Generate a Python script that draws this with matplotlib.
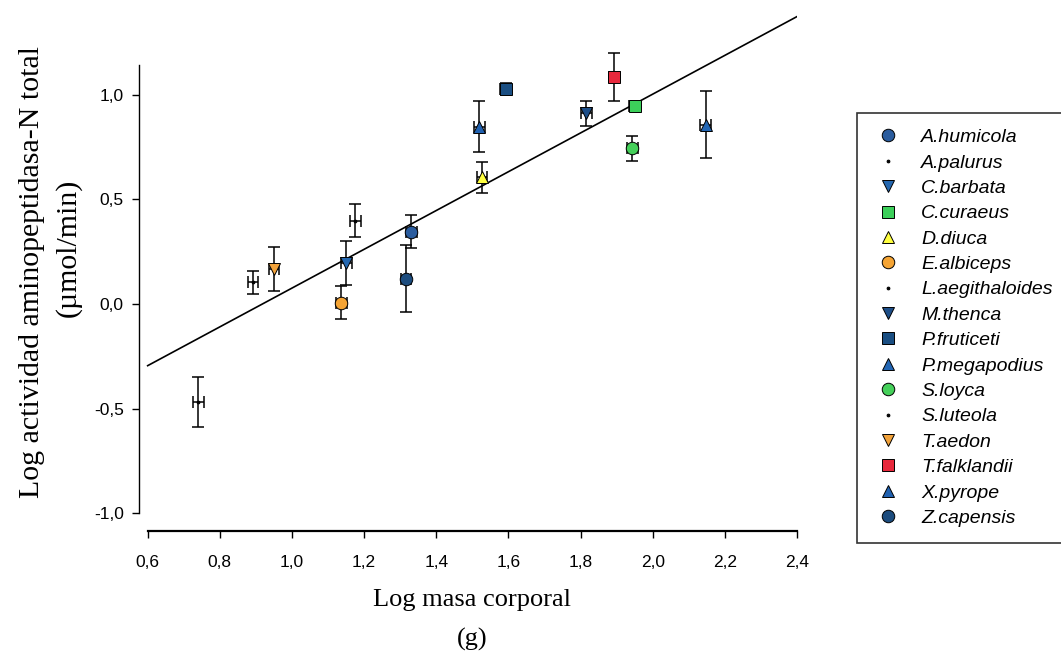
import matplotlib
matplotlib.use("Agg")
import matplotlib.pyplot as plt

# datos
especies = ["A.humicola", "A.palurus", "C.barbata", "C.curaeus", "D.diuca",
            "E.albiceps", "L.aegithaloides", "M.thenca", "P.fruticeti",
            "P.megapodius", "S.loyca", "S.luteola", "T.aedon", "T.falklandii",
            "X.pyrope", "Z.capensis"]
log_masa = [1.331, 0.740, 1.151, 1.950, 1.527, 1.137, 0.892, 1.816, 1.593,
            2.147, 1.943, 1.176, 0.950, 1.894, 1.519, 1.316]
log_act = [0.346, -0.470, 0.195, 0.944, 0.606, 0.006, 0.104, 0.912, 1.027,
           0.856, 0.745, 0.399, 0.166, 1.085, 0.848, 0.120]
err_act = [0.079, 0.120, 0.105, 0.020, 0.074, 0.080, 0.055, 0.060, 0.030,
           0.160, 0.060, 0.078, 0.105, 0.113, 0.120, 0.160]
err_masa = [0.015] * 16
marcadores = ["o", ".", "v", "s", "^", "o", ".", "v", "s", "^", "o", ".", "v", "s", "^", "o"]
colores = ["#2a5c9e", "black", "#2467b0", "#3ccf5a", "#ffff40", "#f5a434", "black",
           "#1d4e88", "#1a4e82", "#2266b4", "#45d05a", "black", "#f2a23a", "#e8283c",
           "#2061b0", "#1c4c7e"]

# recta de regresion
reg_x = [0.6, 2.4]
intercepto = -0.851
pendiente = 0.927

x_ticks = [0.6, 0.8, 1.0, 1.2, 1.4, 1.6, 1.8, 2.0, 2.2, 2.4]
y_ticks = [-1.0, -0.5, 0.0, 0.5, 1.0]

fig = plt.figure(figsize=(10.61, 6.62), dpi=100)
ax = fig.add_axes([139 / 1061, 1 - 531 / 662, 658 / 1061, 522 / 662])

ax.plot(reg_x, [intercepto + pendiente * v for v in reg_x], color="black", lw=1.2, zorder=2)

for i in range(len(especies)):
    ms = 4 if marcadores[i] == "." else 9
    ax.errorbar(log_masa[i], log_act[i], yerr=err_act[i], xerr=err_masa[i],
                fmt="none", ecolor="black", elinewidth=1.1, capsize=4.5,
                capthick=1.1, zorder=3)
    ax.plot(log_masa[i], log_act[i], marker=marcadores[i], linestyle="none",
            markersize=ms, markerfacecolor=colores[i], markeredgecolor="black",
            markeredgewidth=0.7, label=especies[i], zorder=4)

ax.set_xlim(0.576, 2.4)
ax.set_ylim(-1.085, 1.41)
ax.spines["top"].set_visible(False)
ax.spines["right"].set_visible(False)
ax.spines["bottom"].set_bounds(0.6, 2.4)
ax.spines["left"].set_bounds(-1.0, 1.14)
ax.spines["bottom"].set_linewidth(1.6)
ax.spines["left"].set_linewidth(1.0)

ax.set_xticks(x_ticks)
ax.set_yticks(y_ticks)
ax.set_xticklabels([f"{v:.1f}".replace(".", ",") for v in x_ticks])
ax.set_yticklabels([f"{v:.1f}".replace(".", ",") for v in y_ticks])
ax.tick_params(direction="out", length=5, width=1, labelsize=12.5)
ax.tick_params(axis="x", pad=12)
ax.tick_params(axis="y", pad=6)
for lab in ax.get_xticklabels() + ax.get_yticklabels():
    lab.set_family("Liberation Sans")

fig.text(472 / 1061, 1 - 600 / 662, "Log masa corporal", ha="center", va="center",
         family="Liberation Serif", fontsize=19)
fig.text(472 / 1061, 1 - 639 / 662, "(g)", ha="center", va="center",
         family="Liberation Serif", fontsize=19)
fig.text(32 / 1061, 1 - 272 / 662, "Log actividad aminopeptidasa-N total",
         ha="center", va="center", rotation=90, family="Liberation Serif", fontsize=21.5)
fig.text(68 / 1061, 1 - 248 / 662, "(\u00b5mol/min)",
         ha="center", va="center", rotation=90, family="Liberation Serif", fontsize=21.5)

leg = fig.legend(loc="upper left", bbox_to_anchor=(857 / 1061, 1 - 113 / 662 - 0.01, 0.2, 0.01),
                 mode="expand", frameon=True, fancybox=False, edgecolor="black",
                 prop={"family": "Liberation Sans", "style": "italic", "size": 14},
                 labelspacing=0.4, handletextpad=0.9, borderpad=0.8,
                 handlelength=1.6, borderaxespad=0)
leg.get_frame().set_linewidth(1.2)

fig.savefig("out.png", dpi=100)
